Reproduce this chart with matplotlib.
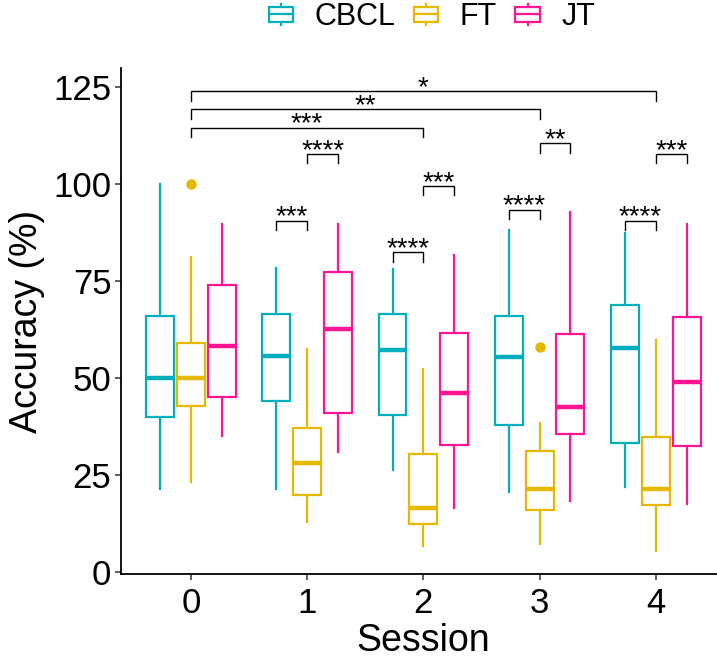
import matplotlib
matplotlib.use("Agg")
import matplotlib.pyplot as plt
from matplotlib.patches import Rectangle
from matplotlib.lines import Line2D
from matplotlib.legend_handler import HandlerBase

plt.rcParams['font.family'] = ['Liberation Sans', 'DejaVu Sans']

# ---------------- data ----------------
sessions = [0, 1, 2, 3, 4]
groups = ["CBCL", "FT", "JT"]
colors = {"CBCL": "#00AFBB", "FT": "#E7B800", "JT": "#FF1493"}

# box stats per group, per session: (whislo, q1, med, q3, whishi)
cbcl_whislo = [21.5, 21.5, 26.5, 20.7, 21.9]
cbcl_q1     = [40.1, 44.1, 40.5, 38.0, 33.4]
cbcl_med    = [50.1, 55.7, 57.2, 55.5, 57.7]
cbcl_q3     = [66.1, 66.7, 66.7, 66.0, 69.0]
cbcl_whishi = [100.0, 78.4, 78.1, 88.2, 87.4]
cbcl_fliers = [[], [], [], [], []]

ft_whislo = [23.2, 13.0, 6.8, 7.2, 5.4]
ft_q1     = [42.9, 20.0, 12.4, 16.0, 17.4]
ft_med    = [50.0, 28.3, 16.7, 21.5, 21.6]
ft_q3     = [59.2, 37.3, 30.5, 31.3, 34.8]
ft_whishi = [81.2, 57.5, 52.3, 38.4, 59.9]
ft_fliers = [[100.0], [], [], [58.1], []]

jt_whislo = [35.1, 30.9, 16.7, 18.5, 17.5]
jt_q1     = [45.1, 41.1, 32.9, 35.7, 32.6]
jt_med    = [58.3, 62.6, 46.1, 42.6, 49.1]
jt_q3     = [74.0, 77.3, 61.6, 61.5, 65.9]
jt_whishi = [89.9, 89.9, 81.7, 92.8, 89.9]
jt_fliers = [[], [], [], [], []]

# significance brackets: (session_a, group_a, session_b, group_b, y, label)
br_sess_a  = [0, 0, 0, 1, 1, 2, 2, 3, 3, 4, 4]
br_grp_a   = ["FT", "FT", "FT", "CBCL", "FT", "CBCL", "FT", "CBCL", "FT", "CBCL", "FT"]
br_sess_b  = [4, 3, 2, 1, 1, 2, 2, 3, 3, 4, 4]
br_grp_b   = ["FT", "FT", "FT", "FT", "JT", "FT", "JT", "FT", "JT", "FT", "JT"]
br_y       = [124.0, 119.3, 114.6, 90.6, 107.8, 82.5, 99.6, 93.5, 110.6, 90.6, 107.8]
br_label   = ["*", "**", "***", "***", "****", "****", "***", "****", "**", "****", "***"]

yticks = [0, 25, 50, 75, 100, 125]

# ---------------- figure ----------------
W, H = 717, 659
fig = plt.figure(figsize=(W / 100, H / 100), dpi=100)
ax_l, ax_r, ax_t, ax_b = 121.2, 725.5, 68.3, 574.3
ax = fig.add_axes([ax_l / W, 1 - ax_b / H, (ax_r - ax_l) / W, (ax_b - ax_t) / H])

offset = {"CBCL": -0.265, "FT": 0.0, "JT": 0.265}
box_w = 0.24

data = {
    "CBCL": (cbcl_whislo, cbcl_q1, cbcl_med, cbcl_q3, cbcl_whishi, cbcl_fliers),
    "FT": (ft_whislo, ft_q1, ft_med, ft_q3, ft_whishi, ft_fliers),
    "JT": (jt_whislo, jt_q1, jt_med, jt_q3, jt_whishi, jt_fliers),
}

for g in groups:
    wl, q1, md, q3, wh, fl = data[g]
    stats = []
    for i in range(len(sessions)):
        stats.append(dict(whislo=wl[i], q1=q1[i], med=md[i], q3=q3[i],
                          whishi=wh[i], fliers=fl[i]))
    pos = [s + offset[g] for s in sessions]
    c = colors[g]
    ax.bxp(stats, positions=pos, widths=box_w, showcaps=False,
           patch_artist=True,
           boxprops=dict(facecolor="white", edgecolor=c, linewidth=1.6),
           whiskerprops=dict(color=c, linewidth=1.6),
           medianprops=dict(color=c, linewidth=3.2, solid_capstyle="butt"),
           flierprops=dict(marker="o", markerfacecolor=c, markeredgecolor=c,
                           markersize=6.5))

# brackets
tip = 2.4
for sa, ga, sb, gb, y, lab in zip(br_sess_a, br_grp_a, br_sess_b, br_grp_b, br_y, br_label):
    xa = sa + offset[ga]
    xb = sb + offset[gb]
    ax.plot([xa, xa, xb, xb], [y - tip, y, y, y - tip], color="black", lw=1.0,
            solid_joinstyle="miter")
    ax.annotate(lab, xy=((xa + xb) / 2, y), xytext=(0, -2.8), textcoords="offset points",
                ha="center", va="baseline", fontsize=20)

ax.set_xlim(-0.6, 4.6)
ax.set_ylim(-0.5, 129.9)
ax.set_xticks(sessions)
ax.set_xticklabels([str(s) for s in sessions])
ax.set_yticks(yticks)
ax.set_yticklabels([str(t) for t in yticks])
for sp in ["top", "right"]:
    ax.spines[sp].set_visible(False)
for sp in ["left", "bottom"]:
    ax.spines[sp].set_linewidth(1.3)
    ax.spines[sp].set_color("black")
ax.tick_params(axis="both", length=4, width=1.1, color="#333333", labelsize=25,
               labelcolor="black", pad=3)
ax.tick_params(axis="x", pad=5)
ax.set_xlabel("Session", fontsize=27, labelpad=2)
ax.set_ylabel("Accuracy (%)", fontsize=27, labelpad=6)


class BoxHandler(HandlerBase):
    def create_artists(self, legend, orig_handle, xdescent, ydescent, width, height,
                       fontsize, trans):
        c = orig_handle.get_color()
        x0, y0 = -xdescent, -ydescent
        bh = height * 0.7
        by = y0 + (height - bh) / 2
        rect = Rectangle((x0, by), width, bh, facecolor="white", edgecolor=c,
                         lw=1.6, transform=trans)
        med = Line2D([x0, x0 + width], [y0 + height / 2] * 2, color=c, lw=1.6,
                     transform=trans)
        wt = Line2D([x0 + width / 2] * 2, [by + bh, y0 + height], color=c, lw=1.6,
                    transform=trans)
        wb = Line2D([x0 + width / 2] * 2, [y0, by], color=c, lw=1.6, transform=trans)
        return [rect, med, wt, wb]


handles = [Line2D([], [], color=colors[g]) for g in groups]
fig.legend(handles, groups, handler_map={Line2D: BoxHandler()},
           loc="center", bbox_to_anchor=(432 / W, 1 - 17 / H), ncol=3, frameon=False,
           fontsize=22, handlelength=0.8, handleheight=0.7, handletextpad=0.7,
           columnspacing=0.6, borderpad=0, borderaxespad=0)

fig.savefig("out.png", dpi=100)
